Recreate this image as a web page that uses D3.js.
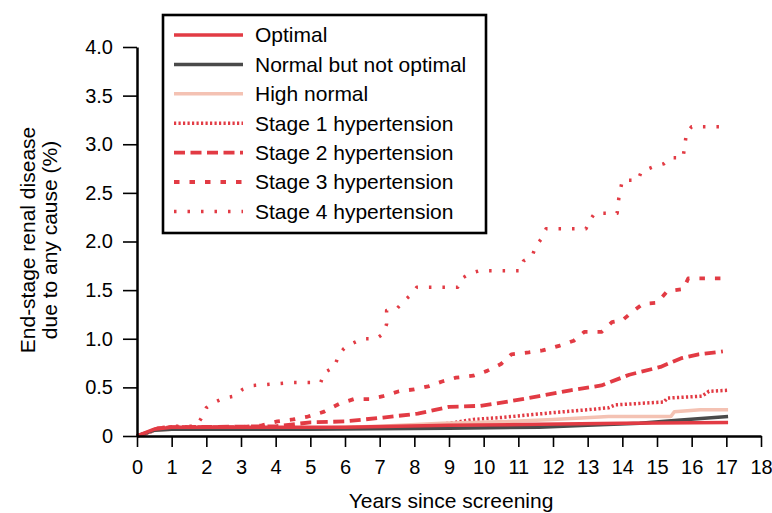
<!DOCTYPE html>
<html>
<head>
<meta charset="utf-8">
<script src="https://cdn.jsdelivr.net/npm/d3@7"></script>
<style>
  body { margin: 0; background: #fff; }
  svg { display: block; font-family: "Liberation Sans", Arial, Helvetica, sans-serif; }
</style>
</head>
<body>
<svg id="chart" width="772" height="513"></svg>
<script>
// ---- Data (years since screening, cumulative incidence %) ----
const seriesNames = ["Optimal", "Normal but not optimal", "High normal",
  "Stage 1 hypertension", "Stage 2 hypertension", "Stage 3 hypertension", "Stage 4 hypertension"];

const optimal = [[0,0],[0.5,0.07],[1,0.09],[3,0.09],[6,0.09],[9,0.11],[11.6,0.12],[14,0.13],[17.05,0.14]];
const normalNotOptimal = [[0,0],[0.5,0.06],[1,0.07],[5,0.07],[9,0.08],[11.6,0.09],[13,0.11],[14.5,0.13],[15.5,0.16],[17.05,0.2]];
const highNormal = [[0,0],[0.5,0.06],[1,0.07],[5,0.08],[7,0.1],[8.8,0.13],[10.7,0.15],[12,0.17],[13.6,0.2],[15.4,0.2],[15.5,0.25],[16.25,0.27],[17.05,0.27]];
const stage1 = [[0,0],[0.3,0.03],[0.6,0.07],[1,0.08],[5,0.08],[7,0.09],[8,0.1],[9,0.13],[9.7,0.17],[10.5,0.19],[11.4,0.22],[12,0.24],[13,0.27],[13.6,0.29],[13.8,0.32],[15.2,0.35],[15.3,0.39],[16.3,0.41],[16.5,0.46],[17.05,0.47]];
const stage2 = [[0,0],[0.3,0.03],[0.6,0.08],[1,0.09],[4,0.1],[4.5,0.12],[5,0.14],[6,0.15],[7.1,0.19],[8.1,0.23],[9.0,0.3],[9.9,0.31],[10.8,0.36],[11.6,0.41],[12.5,0.47],[13.4,0.52],[14.2,0.63],[15.1,0.71],[15.7,0.8],[16.2,0.84],[16.9,0.87]];
const stage3 = [[0,0],[0.3,0.03],[0.6,0.08],[1,0.09],[3,0.09],[3.6,0.11],[4.05,0.15],[4.5,0.17],[4.93,0.2],[5.4,0.25],[5.83,0.33],[6.26,0.38],[6.7,0.38],[7.1,0.41],[7.56,0.46],[8.0,0.48],[8.4,0.51],[8.8,0.56],[9.2,0.6],[9.7,0.62],[10.1,0.67],[10.5,0.74],[10.8,0.84],[11.3,0.86],[11.7,0.88],[12.2,0.93],[12.6,0.98],[12.9,1.07],[13.4,1.07],[13.7,1.17],[14.0,1.19],[14.3,1.28],[14.6,1.36],[15.0,1.37],[15.3,1.49],[15.76,1.51],[15.9,1.62],[16.9,1.62]];
const stage4 = [[0,0],[0.3,0.03],[0.6,0.08],[1.0,0.1],[1.7,0.1],[1.85,0.18],[2.0,0.29],[2.2,0.34],[2.5,0.39],[2.8,0.41],[3.05,0.48],[3.35,0.52],[4.5,0.55],[5.3,0.55],[5.4,0.65],[5.7,0.71],[5.8,0.82],[5.97,0.9],[6.2,0.95],[6.5,1.0],[6.9,1.0],[7.1,1.05],[7.2,1.15],[7.2,1.29],[7.5,1.31],[7.7,1.39],[7.9,1.45],[8.07,1.53],[9.25,1.53],[9.37,1.62],[9.6,1.67],[9.88,1.70],[11.05,1.70],[11.15,1.80],[11.4,1.85],[11.5,1.95],[11.67,2.03],[11.8,2.13],[12.95,2.13],[13.05,2.21],[13.2,2.29],[13.85,2.29],[13.9,2.45],[14.0,2.63],[14.45,2.63],[14.55,2.72],[14.9,2.77],[15.2,2.80],[15.4,2.86],[15.75,2.86],[15.8,2.98],[15.85,3.12],[16.0,3.18],[16.9,3.18]];

const xTicks = d3.range(0, 19, 1);
const yTicks = [0, 0.5, 1.0, 1.5, 2.0, 2.5, 3.0, 3.5, 4.0];

// ---- Styles ----
const RED = "#e23b44", GREY = "#4a4a4a", PINK = "#f4c2b3";
const styles = [
  { color: RED,  dash: null,       width: 3.5 },
  { color: GREY, dash: null,       width: 3.5 },
  { color: PINK, dash: null,       width: 3.5 },
  { color: RED,  dash: "2.2,2.3",  width: 3.5 },
  { color: RED,  dash: "11,5.5",   width: 3.8 },
  { color: RED,  dash: "5.5,10",   width: 3.8 },
  { color: RED,  dash: "2.5,11",   width: 3.5 }
];
const allSeries = [optimal, normalNotOptimal, highNormal, stage1, stage2, stage3, stage4];

// ---- Layout ----
const svg = d3.select("#chart");
const x = d3.scaleLinear().domain([0, 18]).range([137, 761]);
const y = d3.scaleLinear().domain([0, 4]).range([436, 47]);

const line = d3.line().x(d => x(d[0])).y(d => y(d[1]));
const drawOrder = [6, 5, 4, 3, 2, 1, 0];
drawOrder.forEach(i => {
  svg.append("path")
    .datum(allSeries[i])
    .attr("d", line)
    .attr("fill", "none")
    .attr("stroke", styles[i].color)
    .attr("stroke-width", styles[i].width)
    .attr("stroke-dasharray", styles[i].dash)
    .attr("stroke-linejoin", "round");
});

// Axes
const yAxis = d3.axisLeft(y).tickValues(yTicks)
  .tickFormat(d => d === 0 ? "0" : d.toFixed(1))
  .tickSizeInner(14).tickSizeOuter(0).tickPadding(10);
const gy = svg.append("g").attr("transform", "translate(137,0)").call(yAxis);

const xAxis = d3.axisBottom(x).tickValues(xTicks).tickFormat(d3.format("d"))
  .tickSizeInner(11).tickSizeOuter(0).tickPadding(13);
const gx = svg.append("g").attr("transform", "translate(0,436)").call(xAxis);

[gx, gy].forEach(g => {
  g.select(".domain").attr("stroke", "#000").attr("stroke-width", 2.5);
  g.selectAll(".tick line").attr("stroke", "#000").attr("stroke-width", 1.6);
  g.selectAll(".tick text").attr("fill", "#000").style("font-size", "20px")
    .style("font-family", "'Liberation Sans', Arial, Helvetica, sans-serif");
});

// Axis titles
svg.append("text")
  .attr("x", 451).attr("y", 508)
  .attr("text-anchor", "middle")
  .style("font-size", "21px").attr("fill", "#000")
  .text("Years since screening");

const yt = svg.append("text")
  .attr("transform", "translate(0,240) rotate(-90)")
  .attr("text-anchor", "middle")
  .style("font-size", "21px").attr("fill", "#000");
yt.append("tspan").attr("x", 0).attr("y", 35).text("End-stage renal disease");
yt.append("tspan").attr("x", 0).attr("y", 57).text("due to any cause (%)");

// Legend
const legend = svg.append("g");
legend.append("rect")
  .attr("x", 163).attr("y", 15).attr("width", 323).attr("height", 218)
  .attr("fill", "#fff").attr("stroke", "#000").attr("stroke-width", 2.6);
seriesNames.forEach((name, i) => {
  const cy = 35 + i * 29.4;
  legend.append("line")
    .attr("x1", 174).attr("x2", 243).attr("y1", cy).attr("y2", cy)
    .attr("stroke", styles[i].color)
    .attr("stroke-width", styles[i].width)
    .attr("stroke-dasharray", styles[i].dash);
  legend.append("text")
    .attr("x", 255).attr("y", cy).attr("dy", "0.35em")
    .style("font-size", "21px").attr("fill", "#000")
    .text(name);
});
</script>
</body>
</html>
